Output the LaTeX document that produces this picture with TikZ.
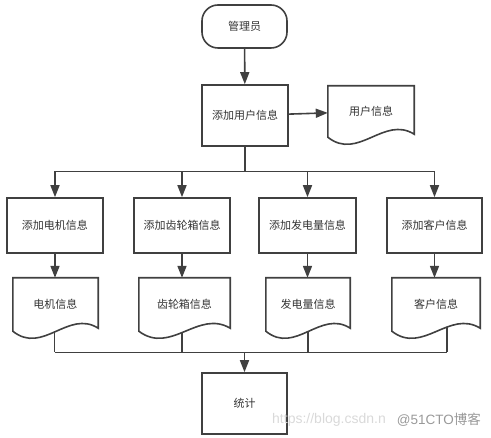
\documentclass[tikz,border=0pt]{standalone}
\usepackage{fontspec}
\setmainfont{Noto Sans CJK SC}
\newfontfamily\wmfont{Liberation Sans}
\usetikzlibrary{arrows.meta,calc}
\definecolor{lc}{HTML}{404040}
\definecolor{tc}{HTML}{333333}
\newcommand\docoutline[2]{%
  \draw[ln] (#1.north west) -- (#1.north east) -- ($(#1.south east)+(0,-3)$)
    .. controls ($(#1.south west)!0.65!(#1.south east)+(0,-22)$) and ($(#1.south west)!0.35!(#1.south east)+(0,24)$) ..
    coordinate[pos=#2] (#1-b) (#1.south west) -- cycle;}
\begin{document}
\begin{tikzpicture}[x=1pt,y=-1pt,
  ln/.style={draw=lc, line width=1.6pt},
  box/.style={rectangle, draw=lc, line width=1.6pt, inner sep=0pt, font=\fontsize{11}{13}\selectfont, text=tc},
  docnode/.style={rectangle, draw=none, inner sep=0pt, font=\fontsize{11}{13}\selectfont, text=tc},
  arr/.style={draw=lc, line width=1.6pt, -{Triangle[length=12pt,width=9pt]}},
]
\useasboundingbox (0,0) rectangle (491,438);
% top
\node[box, rounded corners=16pt, minimum width=85pt, minimum height=43pt] (adm) at (244.5,26.5) {管理员};
\node[box, minimum width=86pt, minimum height=61pt] (addu) at (245,115.5) {添加用户信息};
\node[docnode, minimum width=86pt, minimum height=51pt] (udoc) at (371,111.5) {用户信息};
\docoutline{udoc}{0.5}
% row of processes
\node[box, minimum width=96pt, minimum height=55pt] (b1) at (55,225.5) {添加电机信息};
\node[box, minimum width=96pt, minimum height=55pt] (b2) at (182,225.5) {添加齿轮箱信息};
\node[box, minimum width=97pt, minimum height=55pt] (b3) at (307.5,225.5) {添加发电量信息};
\node[box, minimum width=95pt, minimum height=55pt] (b4) at (434.5,225.5) {添加客户信息};
% documents
\node[docnode, minimum width=85pt, minimum height=53pt] (d1) at (55.5,304.5) {电机信息};
\node[docnode, minimum width=91pt, minimum height=53pt] (d2) at (184.5,304.5) {齿轮箱信息};
\node[docnode, minimum width=84pt, minimum height=53pt] (d3) at (308,304.5) {发电量信息};
\node[docnode, minimum width=88pt, minimum height=53pt] (d4) at (436,304.5) {客户信息};
\docoutline{d1}{0.51}
\docoutline{d2}{0.53}
\docoutline{d3}{0.5}
\docoutline{d4}{0.375}
% bottom
\node[box, minimum width=85pt, minimum height=61pt] (stat) at (244.5,403.5) {统计};
\coordinate (topbus) at (0,171.5);
\coordinate (botbus) at (0,352.5);
% connectors
\draw[arr] (adm) -- (addu);
\draw[arr] (addu) -- (udoc);
\draw[ln] (addu.south) -- (addu.south |- topbus);
\draw[ln] (b1.north |- topbus) -- (b4.north |- topbus);
\foreach \b in {b1,b2,b3,b4}{\draw[arr] (\b.north |- topbus) -- (\b.north);}
\draw[arr] (b1.south) -- (b1.south |- d1.north);
\draw[arr] (b2.south) -- (b2.south |- d2.north);
\draw[arr] (b3.south) -- (b3.south |- d3.north);
\draw[arr] (b4.south) -- (b4.south |- d4.north);
\foreach \d in {d1,d2,d3,d4}{\draw[ln] (\d-b) -- (\d-b |- botbus);}
\draw[ln] (d1-b |- botbus) -- (d4-b |- botbus);
\draw[arr] (stat.north |- botbus) -- (stat.north);
% watermark
\node[anchor=west, inner sep=0pt, text=black!15, font=\wmfont\fontsize{14}{16}\selectfont] (wm1) at (272,420) {https://blog.csdn.n};
\node[anchor=east, inner sep=0pt, text=black!40, font=\wmfont\fontsize{13.5}{16}\selectfont] (wm2) at (481,420) {@51CTO\fontspec{Noto Sans CJK SC}博客};
\end{tikzpicture}
\end{document}
